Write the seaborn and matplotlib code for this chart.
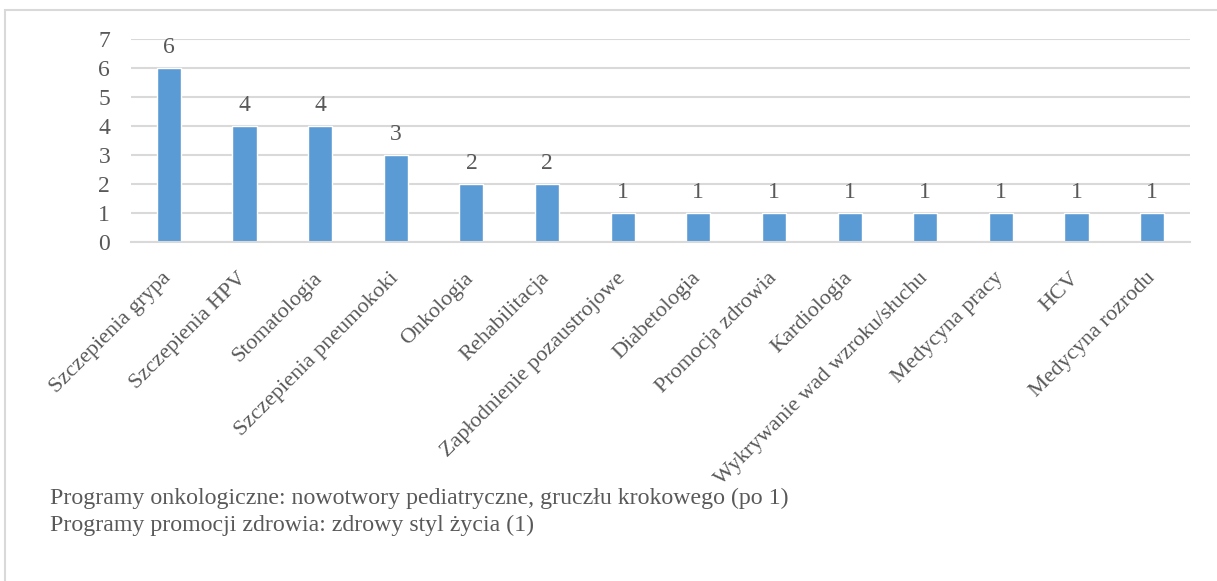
import matplotlib
matplotlib.use("Agg")
import matplotlib.pyplot as plt
import matplotlib.transforms as mtransforms
from matplotlib.patches import Rectangle
import seaborn as sns
import pandas as pd

categories = ["Szczepienia grypa", "Szczepienia HPV", "Stomatologia", "Szczepienia pneumokoki",
              "Onkologia", "Rehabilitacja", "Zapłodnienie pozaustrojowe", "Diabetologia",
              "Promocja zdrowia", "Kardiologia", "Wykrywanie wad wzroku/słuchu", "Medycyna pracy",
              "HCV", "Medycyna rozrodu"]
values = [6, 4, 4, 3, 2, 2, 1, 1, 1, 1, 1, 1, 1, 1]
yticks = [0, 1, 2, 3, 4, 5, 6, 7]
footnotes = ["Programy onkologiczne: nowotwory pediatryczne, gruczłu krokowego (po 1)",
             "Programy promocji zdrowia: zdrowy styl życia (1)"]

sns.set_theme(style="white")
plt.rcParams['font.family'] = ['Liberation Serif', 'DejaVu Serif']

TXT = "#595959"
GRID = "#D9D9D9"
BAR = "#5B9BD5"

df = pd.DataFrame({"cat": categories, "val": values})

fig = plt.figure(figsize=(12.17, 5.81), dpi=100)
ax = fig.add_axes([131/1217, 1 - 242/581, (1190-131)/1217, (242-39)/581])

sns.barplot(data=df, x="cat", y="val", color=BAR, width=0.32, saturation=1, ax=ax)

ax.set_xlim(-0.5, len(categories) - 0.5)
ax.set_ylim(0, 7)
ax.set_yticks(yticks)
ax.set_yticklabels([str(t) for t in yticks], fontsize=17, color=TXT)
ax.yaxis.grid(True, color=GRID, linewidth=1.5)
ax.set_axisbelow(True)
for s in ["top", "right", "left"]:
    ax.spines[s].set_visible(False)
ax.spines["bottom"].set_color(GRID)
ax.spines["bottom"].set_linewidth(1.5)
ax.tick_params(axis="y", length=0, pad=15)
ax.tick_params(axis="x", length=0, pad=2)
ax.set_xlabel("")
ax.set_ylabel("")

ax.set_xticks(range(len(categories)))
ax.set_xticklabels(categories, rotation=45, ha="right", va="top", rotation_mode="anchor",
                   fontsize=16, color=TXT)
offset = mtransforms.ScaledTranslation(-7/100, -24/100, fig.dpi_scale_trans)
for lab in ax.get_xticklabels():
    lab.set_transform(lab.get_transform() + offset)

for c in ax.containers:
    ax.bar_label(c, labels=[str(v) for v in values], padding=7, fontsize=17, color=TXT)

fig.text(50/1217, 1 - 498/581, footnotes[0], fontsize=17.2, color=TXT, va="center", ha="left")
fig.text(50/1217, 1 - 525/581, footnotes[1], fontsize=17.2, color=TXT, va="center", ha="left")

fig.patches.append(Rectangle((5/1217, -0.05), 1.1, 1 - 10/581 + 0.05, transform=fig.transFigure,
                             fill=False, edgecolor=GRID, linewidth=1.5, figure=fig))

fig.savefig("out.png", dpi=100)
